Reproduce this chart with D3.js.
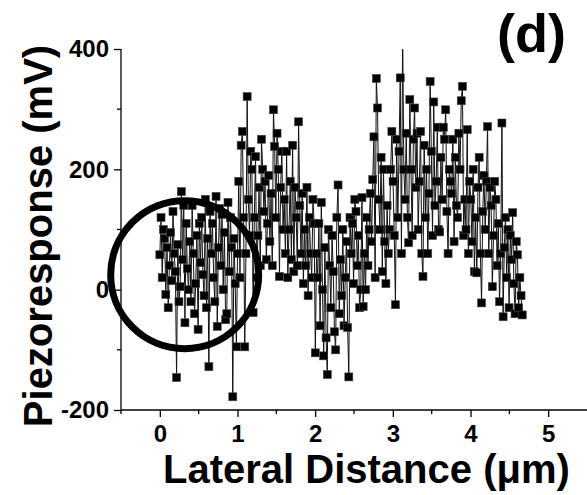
<!DOCTYPE html>
<meta charset="UTF-8">
<style>
body { margin: 0; background: #fff; }
svg { display: block; }
.axis path, .axis line { stroke: #000; stroke-width: 1.3px; }
.axis text { font: bold 24px "Liberation Sans", Arial, sans-serif; fill: #000; }
.title { font: bold 40px "Liberation Sans", Arial, sans-serif; fill: #000; }
</style>
<body>
<script src="https://d3js.org/d3.v7.min.js"></script>
<script>
// piezoresponse along the scan line, one value every xStep um starting at 0
var xStep = 0.0154;
var piezo = [
  58, 120, 20, 100, 85, -8, 70, -30, 40, 95, 15, 130, 60,
  30, -146, 75, -20, 5, 163, 50, 140, -55, 110, 35, 0, 80,
  -20, 140, 60, -40, 10, 90, -66, 110, 45, 120, 25, -10, 150,
  -30, 85, -128, 130, 60, 110, 20, -20, 155, -61, 70, 135, 40,
  125, 0, 95, -50, -40, 145, 30, 120, 70, -178, 85, 10, -95,
  60, 180, 20, 240, 263, 120, -95, 60, 321, 150, 90, 230, 200,
  -38, 120, 221, 20, 90, 170, 40, 250, 200, 130, 180, 50, 110,
  190, 80, 160, 40, 299, 238, 120, 260, 200, 22, 170, 230, 100,
  150, 60, 230, 20, 100, 180, 50, 240, 30, 170, 120, 40, 279,
  140, 60, 160, 10, 100, 40, 170, -10, 120, 60, 20, 150, 110,
  -105, 60, 20, 110, -60, 145, 0, -110, 70, -80, -141, 100, 40,
  -30, 90, 30, -70, -100, 120, 174, -40, 50, -10, 100, -60, 20,
  80, -63, -145, 120, 60, 110, 10, 150, 130, 40, 90, -30, 0,
  153, -28, 60, 0, 120, 40, 100, 160, 80, 183, 254, 20, 351,
  302, 150, 100, 220, 30, 200, 80, 10, 140, 60, 100, 200, 263,
  180, 90, -25, 250, 120, 230, 352, 60, 430, 200, 150, 260, 120,
  78, 316, 200, 90, 250, 302, 170, 260, 100, 180, 263, 60, 22,
  240, 120, 200, 60, 160, 346, 230, 90, 312, 140, 180, 270, 100,
  96, 220, 150, 270, 250, 299, 130, 60, 200, 180, 160, 250, 80,
  220, 140, 120, 260, 200, 314, 338, 90, 150, 100, 266, 60, 180,
  150, 80, 200, 30, 120, 28, 170, 220, 60, -22, 130, 190, 100,
  180, 271, 60, 170, 140, 5, 90, 180, 150, 40, 110, -20, 60,
  277, -45, 70, 120, 20, 100, -30, 90, 50, 128, 10, -40, 80,
  58, -30, 20, -10, -42
];
var xTicks = [0, 1, 2, 3, 4, 5];
var xMinor = [-0.5, 0.5, 1.5, 2.5, 3.5, 4.5];
var yTicks = [-200, 0, 200, 400];
var yMinor = [-100, 100, 300];
var circleNote = {x: 0.32, y: 25};   // circled region on the left
var panelLabel = "(d)";

var width = 587, height = 495;
var margin = {top: 49, right: 0, bottom: 85, left: 121};

var x = d3.scaleLinear().domain([-0.5, 5.5]).range([margin.left, width]);
var y = d3.scaleLinear().domain([-200, 400]).range([height - margin.bottom, margin.top]);

var svg = d3.select("body").append("svg")
    .attr("width", width)
    .attr("height", height);

svg.append("defs").append("clipPath").attr("id", "plot")
  .append("rect")
    .attr("x", margin.left).attr("y", margin.top)
    .attr("width", width - margin.left)
    .attr("height", height - margin.bottom - margin.top);

var data = piezo.map(function(v, i) { return {d: i * xStep, v: v}; });

var g = svg.append("g").attr("clip-path", "url(#plot)");

var line = d3.line()
    .x(function(d) { return x(d.d); })
    .y(function(d) { return y(d.v); });

g.append("path")
    .datum(data)
    .attr("fill", "none")
    .attr("stroke", "#111")
    .attr("stroke-width", 1)
    .attr("d", line);

var s = 8;
g.selectAll(".pt")
    .data(data)
  .enter().append("rect")
    .attr("class", "pt")
    .attr("x", function(d) { return x(d.d) - s / 2; })
    .attr("y", function(d) { return y(d.v) - s / 2; })
    .attr("width", s)
    .attr("height", s)
    .attr("fill", "#000")
    .attr("stroke", "#444")
    .attr("stroke-width", 0.6);

// annotation circle
svg.append("circle")
    .attr("cx", x(circleNote.x))
    .attr("cy", y(circleNote.y))
    .attr("r", 74)
    .attr("fill", "none")
    .attr("stroke", "#000")
    .attr("stroke-width", 7);

var fmt = function(d) { return String(d); };

// axes: major and minor ticks
var xAxis = svg.append("g").attr("class", "axis")
    .attr("transform", "translate(0," + (height - margin.bottom) + ")")
    .call(d3.axisBottom(x).tickValues(xTicks).tickSize(7).tickPadding(8).tickFormat(fmt));
xAxis.select(".domain").attr("d", "M" + margin.left + ",0H" + width);
xAxis.selectAll(".minor").data(xMinor).enter().append("line")
    .attr("class", "minor")
    .attr("x1", function(d) { return x(d); }).attr("x2", function(d) { return x(d); })
    .attr("y1", 0).attr("y2", 4);

var yAxis = svg.append("g").attr("class", "axis")
    .attr("transform", "translate(" + margin.left + ",0)")
    .call(d3.axisLeft(y).tickValues(yTicks).tickSize(7).tickPadding(5).tickFormat(fmt));
yAxis.select(".domain").attr("d", "M0," + y(400) + "V" + y(-200));
yAxis.selectAll(".minor").data(yMinor).enter().append("line")
    .attr("class", "minor")
    .attr("y1", function(d) { return y(d); }).attr("y2", function(d) { return y(d); })
    .attr("x1", 0).attr("x2", -4);

// titles
svg.append("text")
    .attr("class", "title")
    .attr("x", 163)
    .attr("y", 483)
    .text("Lateral Distance (\u03bcm)");

svg.append("text")
    .attr("class", "title")
    .attr("transform", "translate(52,236) rotate(-90)")
    .attr("text-anchor", "middle")
    .text("Piezoresponse (mV)");

svg.append("text")
    .attr("x", 497)
    .attr("y", 52)
    .style("font", "bold 54px 'Liberation Sans', Arial, sans-serif")
    .text(panelLabel);
</script>
</body>
